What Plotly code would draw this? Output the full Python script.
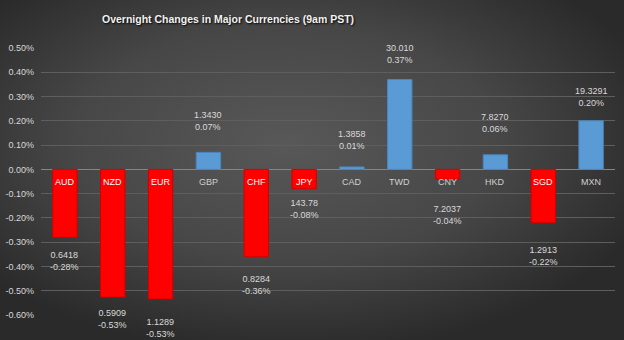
import base64
import plotly.graph_objects as go

# ---- data ----
currencies = ["AUD", "NZD", "EUR", "GBP", "CHF", "JPY", "CAD", "TWD", "CNY", "HKD", "SGD", "MXN"]
rates = ["0.6418", "0.5909", "1.1289", "1.3430", "0.8284", "143.78", "1.3858", "30.010", "7.2037", "7.8270", "1.2913", "19.3291"]
pct_change = [-0.28, -0.526, -0.534, 0.07, -0.36, -0.08, 0.01, 0.37, -0.04, 0.06, -0.22, 0.20]
y_ticks = [-0.6, -0.5, -0.4, -0.3, -0.2, -0.1, 0.0, 0.1, 0.2, 0.3, 0.4, 0.5]
y_tick_labels = [f"{t:.2f}%" for t in y_ticks]

# ---- styling ----
W, H = 624, 340
ML, MR, MT, MB = 41, 9, 48, 25
label_gap_px = [17, 15, 22, 24, 21, 13, 20, 19, 29, 25, 26, 17]  # gap from bar end to nearest text line
FONT = "Liberation Sans"
RED = "#ff0000"
BLUE = "#5b9bd5"

colors = [RED if v < 0 else BLUE for v in pct_change]
edge = ["#d00000" if v < 0 else "#4a86bf" for v in pct_change]

svg = f'''<svg xmlns="http://www.w3.org/2000/svg" width="{W}" height="{H}" viewBox="0 0 {W} {H}" preserveAspectRatio="none">
<defs><radialGradient id="g" cx="0.46" cy="0.42" r="0.62" gradientUnits="objectBoundingBox">
<stop offset="0" stop-color="#585858"/><stop offset="0.55" stop-color="#474747"/><stop offset="1" stop-color="#2a2a2a"/>
</radialGradient></defs><rect width="{W}" height="{H}" fill="url(#g)"/></svg>'''
bg_src = "data:image/svg+xml;base64," + base64.b64encode(svg.encode()).decode()

pw = W - ML - MR
ph = H - MT - MB

fig = go.Figure()
fig.add_trace(go.Bar(
    x=currencies, y=pct_change,
    marker=dict(color=colors, line=dict(color=edge, width=1)),
    width=0.51, hoverinfo="skip",
))

annotations = []
for i, (c, r, v) in enumerate(zip(currencies, rates, pct_change)):
    inside = v < -0.06
    annotations.append(dict(
        x=c, y=0, xref="x", yref="y", text=c, showarrow=False,
        yanchor="middle", yshift=-13,
        font=dict(family=FONT, size=9, color="#ffffff" if inside else "#d0d0d0"),
    ))
    gap = label_gap_px[i] - 6
    txt = f"{r}<br>{v:.2f}%"
    annotations.append(dict(
        x=c, y=v, xref="x", yref="y", text=txt, showarrow=False,
        yanchor="bottom" if v >= 0 else "top",
        yshift=gap if v >= 0 else -gap,
        font=dict(family=FONT, size=9, color="#d9d9d9"),
        align="center",
    ))

annotations.append(dict(
    x=(228 - ML) / pw, y=(H - 19 - MB) / ph, xref="paper", yref="paper", showarrow=False,
    xanchor="center", yanchor="middle",
    text="<b>Overnight Changes in Major Currencies (9am PST)</b>",
    font=dict(family=FONT, size=10.5, color="#f2f2f2", shadow="1px 1px 2px #000000"),
))

fig.update_layout(
    width=W, height=H,
    margin=dict(l=ML, r=MR, t=MT, b=MB, pad=0, autoexpand=False),
    paper_bgcolor="#3a3a3a", plot_bgcolor="rgba(0,0,0,0)",
    showlegend=False,
    bargap=0.49,
    annotations=annotations,
    images=[dict(
        source=bg_src, xref="paper", yref="paper",
        x=-ML / pw, y=1 + MT / ph, sizex=W / pw, sizey=H / ph,
        xanchor="left", yanchor="top", sizing="stretch", layer="below",
    )],
    xaxis=dict(showticklabels=False, showgrid=False, zeroline=False, showline=False,
               range=[-0.5, len(currencies) - 0.5], automargin=False),
    yaxis=dict(range=[-0.6, 0.5], tickvals=y_ticks, ticktext=y_tick_labels,
               showgrid=True, gridcolor="#5e5e5e", gridwidth=1,
               zeroline=True, zerolinecolor="#858585", zerolinewidth=1,
               showline=False, ticks="", ticklabelstandoff=6, automargin=False,
               tickfont=dict(family=FONT, size=9, color="#d9d9d9")),
)

fig.write_html("out.html")
